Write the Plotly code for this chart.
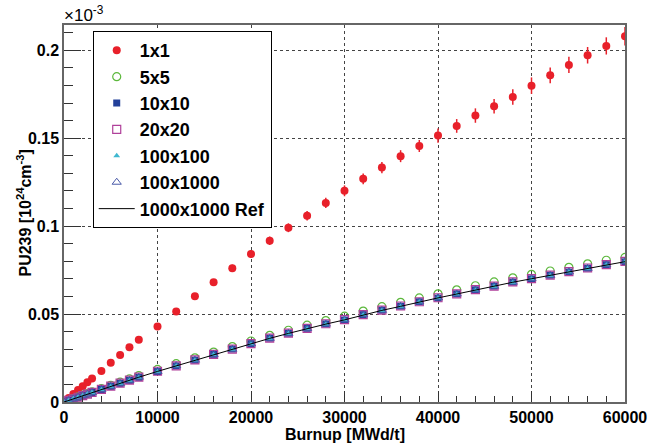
import plotly.graph_objects as go

# ---- data (values in units of 1e-3 x 10^24 cm^-3) ----
burnup = [0, 500, 1000, 1500, 2000, 2500, 3000, 4000, 5000, 6000, 7000, 8000,
          10000, 12000, 14000, 16000, 18000, 20000, 22000, 24000, 26000, 28000,
          30000, 32000, 34000, 36000, 38000, 40000, 42000, 44000, 46000, 48000,
          50000, 52000, 54000, 56000, 58000, 60000]

pu_1x1 = [0, 0.0023, 0.0046, 0.0068, 0.0090, 0.0112, 0.0134, 0.0177, 0.0223, 0.0268, 0.0311, 0.0354,
          0.0430, 0.0515, 0.0601, 0.0681, 0.0761, 0.0842, 0.0917, 0.0991, 0.1059, 0.1132,
          0.1201, 0.1269, 0.1333, 0.1398, 0.1456, 0.1515, 0.1570, 0.1629, 0.1682, 0.1735,
          0.1799, 0.1858, 0.1917, 0.1972, 0.2025, 0.2080]
err_1x1 = [0, 0.0002, 0.0003, 0.0004, 0.0004, 0.0005, 0.0005, 0.0006, 0.0007, 0.0008, 0.0009, 0.0010,
           0.0012, 0.0014, 0.0016, 0.0018, 0.0020, 0.0022, 0.0024, 0.0025, 0.0027, 0.0029,
           0.0031, 0.0030, 0.0032, 0.0034, 0.0034, 0.0040, 0.0039, 0.0041, 0.0041, 0.0044,
           0.0047, 0.0045, 0.0046, 0.0047, 0.0049, 0.0052]

pu_5x5 = [0, 0.0010, 0.0020, 0.0029, 0.0039, 0.0048, 0.0058, 0.0076, 0.0095, 0.0113, 0.0131, 0.0150,
          0.0185, 0.0218, 0.0251, 0.0284, 0.0315, 0.0347, 0.0379, 0.0408, 0.0437, 0.0463,
          0.0488, 0.0517, 0.0542, 0.0567, 0.0592, 0.0615, 0.0638, 0.0661, 0.0683, 0.0706,
          0.0726, 0.0745, 0.0766, 0.0786, 0.0806, 0.0822]

pu_10x10 = [0, 0.0009, 0.0018, 0.0027, 0.0036, 0.0045, 0.0054, 0.0071, 0.0089, 0.0106, 0.0123, 0.0140,
            0.0173, 0.0205, 0.0238, 0.0271, 0.0301, 0.0332, 0.0363, 0.0391, 0.0419, 0.0444,
            0.0466, 0.0497, 0.0522, 0.0545, 0.0570, 0.0591, 0.0615, 0.0638, 0.0659, 0.0682,
            0.0700, 0.0721, 0.0739, 0.0761, 0.0781, 0.0797]

pu_20x20 = [0, 0.0009, 0.0018, 0.0027, 0.0036, 0.0045, 0.0055, 0.0072, 0.0090, 0.0107, 0.0124, 0.0141,
            0.0175, 0.0206, 0.0239, 0.0271, 0.0301, 0.0332, 0.0363, 0.0392, 0.0419, 0.0445,
            0.0468, 0.0497, 0.0522, 0.0546, 0.0570, 0.0593, 0.0615, 0.0639, 0.0659, 0.0683,
            0.0702, 0.0721, 0.0741, 0.0762, 0.0781, 0.0800]

pu_100x100 = [0, 0.0009, 0.0018, 0.0027, 0.0036, 0.0045, 0.0054, 0.0071, 0.0088, 0.0105, 0.0122, 0.0140,
              0.0173, 0.0205, 0.0237, 0.0269, 0.0299, 0.0330, 0.0361, 0.0389, 0.0417, 0.0442,
              0.0466, 0.0495, 0.0520, 0.0543, 0.0568, 0.0591, 0.0613, 0.0636, 0.0657, 0.0680,
              0.0700, 0.0719, 0.0739, 0.0759, 0.0779, 0.0797]

pu_100x1000 = [0, 0.0009, 0.0018, 0.0027, 0.0036, 0.0045, 0.0054, 0.0071, 0.0089, 0.0106, 0.0123, 0.0141,
               0.0174, 0.0206, 0.0238, 0.0270, 0.0300, 0.0331, 0.0362, 0.0390, 0.0418, 0.0443,
               0.0467, 0.0496, 0.0521, 0.0544, 0.0569, 0.0592, 0.0614, 0.0637, 0.0658, 0.0681,
               0.0701, 0.0720, 0.0740, 0.0760, 0.0780, 0.0798]

pu_ref = [0, 0.0009, 0.0018, 0.0027, 0.0036, 0.0045, 0.0054, 0.0071, 0.0089, 0.0106, 0.0123, 0.0141,
          0.0174, 0.0206, 0.0238, 0.0270, 0.0300, 0.0331, 0.0362, 0.0390, 0.0418, 0.0443,
          0.0467, 0.0496, 0.0521, 0.0544, 0.0569, 0.0592, 0.0614, 0.0637, 0.0658, 0.0681,
          0.0701, 0.0720, 0.0740, 0.0760, 0.0780, 0.0798]

x_ticks = [0, 10000, 20000, 30000, 40000, 50000, 60000]
y_ticks = [0, 0.05, 0.1, 0.15, 0.2]

FONT = "Liberation Sans"
RED = "#e8202a"

fig = go.Figure()
fig.add_trace(go.Scatter(
    x=burnup, y=pu_1x1, name="1x1", mode="markers",
    marker=dict(symbol="circle", size=8, color=RED),
    error_y=dict(type="data", array=err_1x1, color=RED, thickness=1.5, width=0)))
fig.add_trace(go.Scatter(
    x=burnup, y=pu_5x5, name="5x5", mode="markers",
    marker=dict(symbol="circle-open", size=8, color="#5cb83c", line=dict(width=1.2))))
fig.add_trace(go.Scatter(
    x=burnup, y=pu_10x10, name="10x10", mode="markers",
    marker=dict(symbol="square", size=7, color="#23409a")))
fig.add_trace(go.Scatter(
    x=burnup, y=pu_20x20, name="20x20", mode="markers",
    marker=dict(symbol="square-open", size=8, color="#b0409a", line=dict(width=1.2))))
fig.add_trace(go.Scatter(
    x=burnup, y=pu_100x100, name="100x100", mode="markers",
    marker=dict(symbol="triangle-up", size=6, color="#40b8d0")))
fig.add_trace(go.Scatter(
    x=burnup, y=pu_100x1000, name="100x1000", mode="markers",
    marker=dict(symbol="triangle-up-open", size=8, color="#4a5aa8", line=dict(width=1))))
fig.add_trace(go.Scatter(
    x=burnup, y=pu_ref, name="1000x1000 Ref", mode="lines",
    line=dict(color="black", width=1)))

fig.update_layout(
    width=661, height=444,
    margin=dict(l=64, r=36, t=25, b=42),
    paper_bgcolor="white", plot_bgcolor="white",
    font=dict(family=FONT, size=16, color="black", weight="bold"),
    showlegend=True,
    legend=dict(x=0.0512, y=0.984, xanchor="left", yanchor="top",
                bgcolor="white", bordercolor="black", borderwidth=1,
                font=dict(family=FONT, size=18, weight="bold"),
                itemwidth=36, tracegroupgap=0),
    xaxis=dict(range=[0, 60000], tickvals=x_ticks, tickformat="d",
               ticks="inside", ticklen=11, tickcolor="#333",
               minor=dict(ticks="inside", ticklen=6, dtick=2000, tickcolor="#333", showgrid=False),
               showgrid=True, gridcolor="#444", griddash="dot", gridwidth=1,
               showline=True, linecolor="#666", linewidth=1.5, mirror=True,
               zeroline=False,
               tickfont=dict(family=FONT, size=16, weight="bold")),
    yaxis=dict(range=[0, 0.2144], tickvals=y_ticks,
               ticks="inside", ticklen=17, tickcolor="#333",
               minor=dict(ticks="inside", ticklen=9, dtick=0.01, tickcolor="#333", showgrid=False),
               showgrid=True, gridcolor="#444", griddash="dot", gridwidth=1,
               showline=True, linecolor="#666", linewidth=1.5, mirror=True,
               zeroline=False,
               tickfont=dict(family=FONT, size=16, weight="bold")),
    annotations=[
        dict(text="Burnup [MWd/t]", xref="paper", yref="paper", x=0.5, y=-0.086,
             xanchor="center", yanchor="middle", showarrow=False,
             font=dict(family=FONT, size=16, weight="bold")),
        dict(text="PU239 [10<sup>24</sup>cm<sup>-3</sup>]", xref="paper", yref="paper",
             x=-0.0713, y=0.5, xanchor="center", yanchor="middle", textangle=-90,
             showarrow=False, font=dict(family=FONT, size=16, weight="bold")),
        dict(text="×10<sup>-3</sup>", xref="paper", yref="paper", x=-0.003, y=1.03,
             xanchor="left", yanchor="middle", showarrow=False,
             font=dict(family=FONT, size=17, weight="normal")),
    ],
)

fig.write_html("out.html")
